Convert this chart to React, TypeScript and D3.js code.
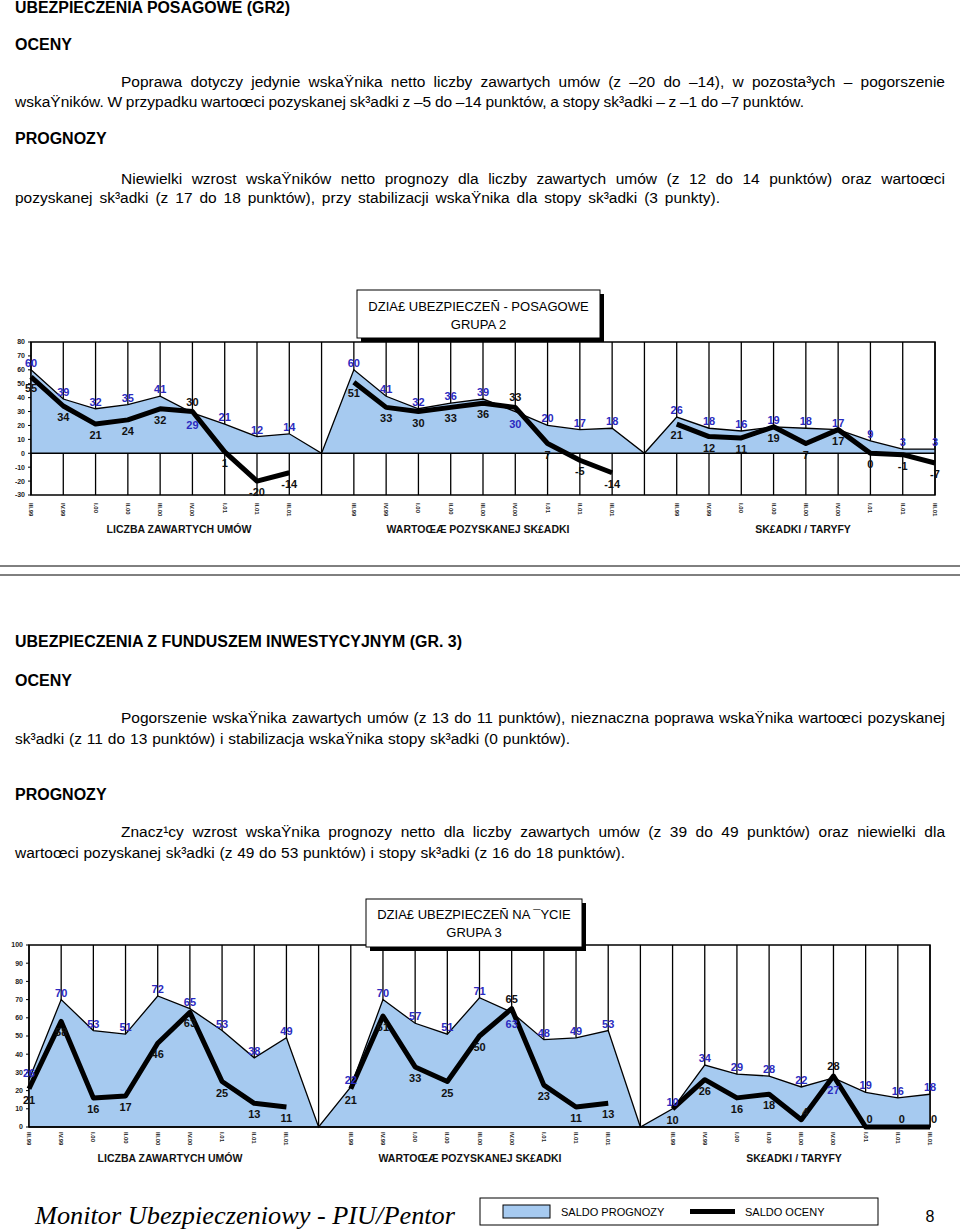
import React from 'react';
import * as d3 from 'd3';

// ---------- DATA ----------
const periods = ['III.99', 'IV.99', 'I.00', 'II.00', 'III.00', 'IV.00', 'I.01', 'II.01', 'III.01'];
const groupNames = ['LICZBA ZAWARTYCH UMÓW', 'WARTOŒÆ POZYSKANEJ SK£ADKI', 'SK£ADKI / TARYFY'];

// Grupa 2 (posagowe)
const g2ForecastUmowy = [60, 39, 32, 35, 41, 29, 21, 12, 14];
const g2AssessUmowy = [55, 34, 21, 24, 32, 30, 1, -20, -14];
const g2ForecastSkladka = [60, 41, 32, 36, 39, 30, 20, 17, 18];
const g2AssessSkladka = [51, 33, 30, 33, 36, 33, 7, -5, -14];
const g2ForecastTaryfy = [26, 18, 16, 19, 18, 17, 9, 3, 3];
const g2AssessTaryfy = [21, 12, 11, 19, 7, 17, 0, -1, -7];
const g2Ticks = [-30, -20, -10, 0, 10, 20, 30, 40, 50, 60, 70, 80];

// Grupa 3 (fundusz inwestycyjny)
const g3ForecastUmowy = [26, 70, 53, 51, 72, 65, 53, 38, 49];
const g3AssessUmowy = [21, 58, 16, 17, 46, 63, 25, 13, 11];
const g3ForecastSkladka = [22, 70, 57, 51, 71, 63, 48, 49, 53];
const g3AssessSkladka = [21, 61, 33, 25, 50, 65, 23, 11, 13];
const g3ForecastTaryfy = [10, 34, 29, 28, 22, 27, 19, 16, 18];
const g3AssessTaryfy = [10, 26, 16, 18, 4, 28, 0, 0, 0];
const g3Ticks = [0, 10, 20, 30, 40, 50, 60, 70, 80, 90, 100];

const legendLabels = ['SALDO PROGNOZY', 'SALDO OCENY'];

// ---------- STYLE ----------
const SANS = "'Liberation Sans', Arial, Helvetica, sans-serif";
const SERIF = "'Liberation Serif', 'Times New Roman', serif";
const BLUE_FILL = '#A6CAF0';
const BLUE_TEXT = '#2B2BC0';
const INK = '#111';

let _ctx: CanvasRenderingContext2D | null = null;
function measure(text: string, font: string): number {
  if (!_ctx) {
    const c = document.createElement('canvas');
    _ctx = c.getContext('2d');
  }
  if (!_ctx) return text.length * 7;
  _ctx.font = font;
  return _ctx.measureText(text).width;
}

function JLine({ text, x0, x1, y, size = 15.5, weight = 'normal' }: any) {
  const font = `${weight} ${size}px 'Liberation Sans'`;
  const words = text.split(/\s+/).filter(Boolean);
  const widths = words.map((w: string) => measure(w, font));
  const total = widths.reduce((a: number, b: number) => a + b, 0);
  const gap = words.length > 1 ? (x1 - x0 - total) / (words.length - 1) : 0;
  let cx = x0;
  const xs = widths.map((w: number) => {
    const r = cx;
    cx += w + gap;
    return r;
  });
  return (
    <text y={y} fontSize={size} fontWeight={weight} fontFamily={SANS} fill="#000">
      {words.map((w: string, i: number) => (
        <tspan key={i} x={xs[i]}>
          {w}
        </tspan>
      ))}
    </text>
  );
}

function Heading({ text, x, y, len }: any) {
  return (
    <text x={x} y={y} fontSize={16} fontWeight="bold" fontFamily={SANS} fill="#000"
      {...(len ? { textLength: len, lengthAdjust: 'spacingAndGlyphs' } : {})}>
      {text}
    </text>
  );
}

function Chart({ forecast, assess, domain, ticks, x0, x1, yTop, yBottom, tickLabelY,
  groupTitleY, groupTitleX, box, titleLines, titleY }: any) {
  const keys: string[] = [];
  const values: { key: string; v: number; gap: boolean; g: number; i: number }[] = [];
  forecast.forEach((arr: number[], g: number) => {
    arr.forEach((v, i) => {
      keys.push(`${g}-${i}`);
      values.push({ key: `${g}-${i}`, v, gap: false, g, i });
    });
    if (g < forecast.length - 1) {
      keys.push(`gap${g}`);
      values.push({ key: `gap${g}`, v: 0, gap: true, g, i: -1 });
    }
  });
  const x = d3.scalePoint<string>().domain(keys).range([x0, x1]);
  const y = d3.scaleLinear().domain(domain).range([yBottom, yTop]);
  const area = d3.area<any>().x((d) => x(d.key)!).y0(y(0)).y1((d) => y(d.v));
  const top = d3.line<any>().x((d) => x(d.key)!).y((d) => y(d.v));
  const line = d3.line<any>().x((d) => x(d.key)!).y((d) => y(d.v));

  const labels: any[] = [];
  forecast.forEach((arr: number[], g: number) => {
    arr.forEach((f, i) => {
      const a = assess[g][i];
      const px = x(`${g}-${i}`)!;
      const swap = a > f;
      labels.push(
        <text key={`f${g}-${i}`} x={px} y={swap ? y(f) + 16 : y(f) - 3} fill={BLUE_TEXT}
          fontSize={11} fontWeight="bold" fontFamily={SANS} textAnchor="middle">{f}</text>
      );
      let ay = swap ? y(a) - 6 : y(a) + 15;
      let ax = px;
      if (!swap && ay > yBottom + 4) {
        ay = y(a) - 4;
        ax = px + 4;
      }
      labels.push(
        <text key={`a${g}-${i}`} x={ax} y={ay} fill={INK}
          fontSize={11} fontWeight="bold" fontFamily={SANS} textAnchor="middle">{a}</text>
      );
    });
  });

  return (
    <g>
      {keys.map((k) => (
        <line key={k} x1={x(k)} x2={x(k)} y1={yTop} y2={yBottom} stroke="#000" strokeWidth={1.3} />
      ))}
      <path d={area(values)!} fill={BLUE_FILL} />
      <path d={top(values)!} fill="none" stroke="#000" strokeWidth={1.3} />
      <line x1={x0} x2={x1} y1={y(0)} y2={y(0)} stroke="#000" strokeWidth={1.5} />
      {assess.map((arr: number[], g: number) => (
        <path key={g} d={line(arr.map((v, i) => ({ key: `${g}-${i}`, v })))!} fill="none"
          stroke="#000" strokeWidth={5} strokeLinejoin="round" />
      ))}
      <rect x={x0} y={yTop} width={x1 - x0} height={yBottom - yTop} fill="none" stroke="#000" strokeWidth={1.5} />
      {ticks.map((t: number) => (
        <g key={t}>
          <line x1={x0 - 3} x2={x0} y1={y(t)} y2={y(t)} stroke="#000" strokeWidth={1} />
          <text x={x0 - 6} y={y(t)} dy="0.35em" textAnchor="end" fontSize={7} fontWeight="bold"
            fontFamily={SANS} fill="#222">{t}</text>
        </g>
      ))}
      {values.filter((d) => !d.gap).map((d) => (
        <text key={`t${d.key}`} transform={`translate(${x(d.key)! - 2},${tickLabelY}) rotate(90)`}
          fontSize={6} fontWeight="bold" fontFamily={SANS} fill="#222">{periods[d.i]}</text>
      ))}
      {labels}
      {groupNames.map((n, g) => (
        <text key={n} x={groupTitleX[g]} y={groupTitleY} textAnchor="middle" fontSize={10.5}
          fontWeight="bold" fontFamily={SANS} fill="#111">{n}</text>
      ))}
      <rect x={box.x + 4} y={box.y + 4} width={box.w} height={box.h} fill="#000" />
      <rect x={box.x} y={box.y} width={box.w} height={box.h} fill="#fff" stroke="#000" strokeWidth={1} />
      {titleLines.map((t: string, i: number) => (
        <text key={t} x={box.x + box.w / 2} y={titleY[i]} textAnchor="middle" fontSize={13}
          fontFamily={SANS} fill="#000">{t}</text>
      ))}
    </g>
  );
}

export default function App() {
  return (
    <svg width={960} height={1232} style={{ position: 'absolute', left: 0, top: 0, background: '#fff' }}>
      <rect width={960} height={1232} fill="#fff" />
      {/* Section 1 */}
      <Heading text="UBEZPIECZENIA POSAGOWE (GR2)" x={15} y={13} len={275} />
      <Heading text="OCENY" x={15} y={50} />
      <JLine x0={121} x1={945} y={87}
        text="Poprawa dotyczy jedynie wskaŸnika netto liczby zawartych umów (z –20 do –14), w pozosta³ych – pogorszenie" />
      <JLine x0={15} x1={804} y={107}
        text="wskaŸników. W przypadku wartoœci pozyskanej sk³adki z –5 do –14 punktów, a stopy  sk³adki – z –1 do –7 punktów." />
      <Heading text="PROGNOZY" x={15} y={144} />
      <JLine x0={121} x1={945} y={184}
        text="Niewielki wzrost wskaŸników netto prognozy dla liczby zawartych umów (z 12 do 14 punktów) oraz wartoœci" />
      <JLine x0={15} x1={720} y={203}
        text="pozyskanej sk³adki (z 17 do 18 punktów), przy stabilizacji wskaŸnika dla stopy sk³adki (3 punkty)." />

      <Chart
        forecast={[g2ForecastUmowy, g2ForecastSkladka, g2ForecastTaryfy]}
        assess={[g2AssessUmowy, g2AssessSkladka, g2AssessTaryfy]}
        domain={[-30, 80]} ticks={g2Ticks}
        x0={31} x1={935} yTop={342} yBottom={495} tickLabelY={503}
        groupTitleY={533} groupTitleX={[179, 478, 803]}
        box={{ x: 357, y: 290, w: 243, h: 48 }}
        titleLines={['DZIA£ UBEZPIECZEÑ - POSAGOWE', 'GRUPA 2']} titleY={[311, 329]}
      />

      <line x1={0} x2={960} y1={566} y2={566} stroke="#000" strokeWidth={1} />
      <line x1={0} x2={960} y1={575} y2={575} stroke="#000" strokeWidth={1} />

      {/* Section 2 */}
      <Heading text="UBEZPIECZENIA Z FUNDUSZEM INWESTYCYJNYM (GR. 3)" x={15} y={647} len={447} />
      <Heading text="OCENY" x={15} y={686} />
      <JLine x0={121} x1={945} y={723}
        text="Pogorszenie wskaŸnika zawartych umów (z 13 do 11 punktów), nieznaczna poprawa wskaŸnika wartoœci pozyskanej" />
      <JLine x0={15} x1={570} y={744}
        text="sk³adki (z 11 do 13 punktów) i stabilizacja wskaŸnika stopy sk³adki (0 punktów)." />
      <Heading text="PROGNOZY" x={15} y={800} />
      <JLine x0={121} x1={945} y={837}
        text="Znacz¹cy wzrost wskaŸnika prognozy netto dla liczby zawartych umów (z 39 do 49 punktów) oraz niewielki dla" />
      <JLine x0={15} x1={625} y={858}
        text="wartoœci pozyskanej sk³adki (z 49 do 53 punktów) i stopy sk³adki (z 16 do 18 punktów)." />

      <Chart
        forecast={[g3ForecastUmowy, g3ForecastSkladka, g3ForecastTaryfy]}
        assess={[g3AssessUmowy, g3AssessSkladka, g3AssessTaryfy]}
        domain={[0, 100]} ticks={g3Ticks}
        x0={29} x1={930} yTop={945} yBottom={1127} tickLabelY={1132}
        groupTitleY={1162} groupTitleX={[170, 470, 794]}
        box={{ x: 366, y: 899, w: 216, h: 48 }}
        titleLines={['DZIA£ UBEZPIECZEÑ NA ¯YCIE', 'GRUPA 3']} titleY={[919, 937]}
      />

      {/* Footer */}
      <text x={35} y={1224} fontSize={25} fontStyle="italic" fontFamily={SERIF} fill="#000"
        textLength={420} lengthAdjust="spacingAndGlyphs">Monitor Ubezpieczeniowy - PIU/Pentor</text>
      <rect x={480} y={1198} width={398} height={27} fill="#fff" stroke="#000" strokeWidth={1} />
      <rect x={503} y={1205} width={47} height={13} fill={BLUE_FILL} stroke="#000" strokeWidth={1} />
      <text x={561} y={1215.5} fontSize={11} fontFamily={SANS} fill="#000">{legendLabels[0]}</text>
      <line x1={690} x2={735} y1={1211.5} y2={1211.5} stroke="#000" strokeWidth={5} />
      <text x={745} y={1215.5} fontSize={11} fontFamily={SANS} fill="#000">{legendLabels[1]}</text>
      <text x={930} y={1222} fontSize={16} fontFamily={SANS} fill="#000" textAnchor="middle">8</text>
    </svg>
  );
}
